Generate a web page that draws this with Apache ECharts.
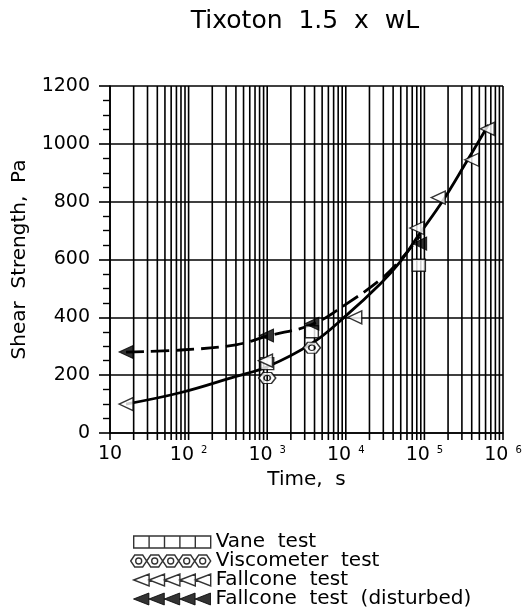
<!DOCTYPE html>
<html><head><meta charset="utf-8">
<script src="https://cdn.jsdelivr.net/npm/echarts@6/dist/echarts.min.js"></script>
<style>html,body{margin:0;padding:0;background:#fff}#c{width:525px;height:610px}</style>
</head><body><div id="c"></div>
<script>
const chartTitle = 'Tixoton  1.5  x  wL';
const yAxisName = 'Shear  Strength,  Pa';
const xAxisName = 'Time,  s';
const yTicks = [0, 200, 400, 600, 800, 1000, 1200];
const xDecades = [10, 100, 1000, 10000, 100000];
const xMultipliers = [1, 2, 3, 4, 5, 6, 7, 8, 9];

// measured points
const vaneTime = [1000, 3700, 85000];
const vaneStrength = [240, 350, 580];
const viscoTime = [1000, 3700];
const viscoStrength = [190, 295];
const fallTime = [16, 950, 13000, 80000, 150000, 400000, 630000];
const fallStrength = [100, 250, 400, 709, 814, 945, 1052];
const distTime = [16, 980, 3700, 87000];
const distStrength = [280, 337, 378, 655];

// fitted curves
const fitTime = [16, 80, 400, 1000, 3700, 10000, 28000, 50000, 80000, 174000, 330000, 650000];
const fitStrength = [100, 140, 196, 229, 310, 405, 518, 594, 675, 806, 930, 1065];
const distFitTime = [16, 80, 400, 1000, 3700, 10000, 28000, 50000, 87000];
const distFitStrength = [280, 287, 305, 335, 375, 445, 532, 600, 680];

const legendNames = ['Vane  test', 'Viscometer  test', 'Fallcone  test', 'Fallcone  test  (disturbed)'];

const pair = (a, b) => a.map((v, i) => [v, b[i]]);
const gridX = [];
xDecades.forEach(d => xMultipliers.forEach(m => gridX.push(d * m)));
gridX.push(1000000);

function stripPath(w, h, n, cell) {
  let s = '';
  for (let i = 0; i < n; i++) s += cell(i * w / n, w / n, h);
  return 'path://' + s;
}
const vaneIcon = 'path://M0,0H77V12H0Z' + [1,2,3,4].map(i => 'M' + (i*15.4) + ',0V12').join('');
const fallIcon = stripPath(77, 12, 5, (x, w, h) => `M${x},${h/2}L${x+w},0L${x+w},${h}Z`);
const viscoIcon = stripPath(80, 12, 5, (x, w, h) =>
  `M${x},6L${x+4},0L${x+12},0L${x+16},6L${x+12},12L${x+4},12Z M${x+5},6A3,3 0 1,0 ${x+11},6A3,3 0 1,0 ${x+5},6Z`);
const viscoSymbol = 'path://M0,6L4,0L12,0L16,6L12,12L4,12Z M5,6A3,3 0 1,0 11,6A3,3 0 1,0 5,6Z';

const FONT = 'DejaVu Sans';
const hollow = {color: '#fff', borderColor: '#000', borderWidth: 1.4};
const filled = {color: '#000', borderColor: '#000', borderWidth: 1};

const legendRows = [532, 551, 570, 589];
function mkLegend(i, icon, left, w, style) {
  return {
    data: [{name: legendNames[i], icon: icon}],
    left: left, top: legendRows[i], padding: 0, orient: 'horizontal',
    itemWidth: w, itemHeight: 12, selectedMode: false,
    itemStyle: style,
    textStyle: {fontFamily: FONT, fontSize: 20, color: '#000'}
  };
}

const chart = echarts.init(document.getElementById('c'), null, {renderer: 'canvas'});
chart.setOption({
  animation: false,
  backgroundColor: '#fff',
  title: {
    text: chartTitle, left: 300, top: 4, textAlign: 'center',
    textStyle: {fontFamily: FONT, fontSize: 25, fontWeight: 'normal', color: '#000'}
  },
  legend: [
    mkLegend(0, vaneIcon, 133, 77, hollow),
    mkLegend(1, viscoIcon, 130, 80, hollow),
    mkLegend(2, fallIcon, 133, 77, hollow),
    mkLegend(3, fallIcon, 133, 77, filled)
  ],
  grid: {left: 110, right: 22, top: 86, bottom: 177, containLabel: false},
  xAxis: {
    type: 'log', logBase: 10, min: 10, max: 1000000,
    name: xAxisName, nameLocation: 'middle', nameGap: 30,
    nameTextStyle: {fontFamily: FONT, fontSize: 20, color: '#000'},
    axisLine: {show: true, lineStyle: {color: '#000', width: 1.6}},
    axisTick: {show: false},
    splitLine: {show: false},
    axisLabel: {
      margin: 12, color: '#000',
      formatter: v => {
        const e = Math.round(Math.log10(v));
        return e === 1 ? '{b|10}' : '{b|10}{s|' + e + '}';
      },
      rich: {
        b: {fontFamily: FONT, fontSize: 19, color: '#000'},
        s: {fontFamily: FONT, fontSize: 10, color: '#000', verticalAlign: 'top', padding: [0, 0, 10, 7]}
      }
    }
  },
  yAxis: {
    type: 'value', min: 0, max: 1200, interval: 200,
    name: yAxisName, nameLocation: 'middle', nameGap: 80, nameRotate: 90,
    nameTextStyle: {fontFamily: FONT, fontSize: 20, color: '#000'},
    axisLine: {show: true, lineStyle: {color: '#000', width: 1.6}},
    axisTick: {show: true, length: 11, lineStyle: {color: '#000', width: 1.6}},
    minorTick: {show: true, splitNumber: 4, length: 7, lineStyle: {color: '#000', width: 1.4}},
    splitLine: {show: true, lineStyle: {color: '#000', width: 1.6}},
    axisLabel: {margin: 20, fontFamily: FONT, fontSize: 19, color: '#000',
      formatter: v => yTicks.includes(v) ? String(v) : ''}
  },
  series: [
    {
      type: 'custom', silent: true, z: 1,
      data: gridX.map(v => [v, 0]), encode: {x: 0, y: 1},
      renderItem: (params, api) => {
        const x = api.value(0);
        const t = api.coord([x, 1200]);
        const b = api.coord([x, 0]);
        return {type: 'line', shape: {x1: t[0], y1: t[1], x2: b[0], y2: b[1] + 7},
          style: {stroke: '#000', lineWidth: 1.6}};
      }
    },
    {
      type: 'line', name: 'fit', data: pair(fitTime, fitStrength), smooth: 0.4,
      showSymbol: false, symbol: 'none', z: 3, silent: true,
      lineStyle: {color: '#000', width: 2.8}
    },
    {
      type: 'line', name: 'fitd', data: pair(distFitTime, distFitStrength), smooth: 0.4,
      showSymbol: false, symbol: 'none', z: 3, silent: true,
      lineStyle: {color: '#000', width: 2.8, type: [18, 7]}
    },
    {
      type: 'scatter', name: legendNames[0], data: pair(vaneTime, vaneStrength),
      symbol: 'rect', symbolSize: [13, 12], z: 5, itemStyle: hollow
    },
    {
      type: 'scatter', name: legendNames[1], data: pair(viscoTime, viscoStrength),
      symbol: viscoSymbol, symbolSize: [17, 11], z: 5, itemStyle: hollow
    },
    {
      type: 'scatter', name: legendNames[2], data: pair(fallTime, fallStrength),
      symbol: 'triangle', symbolRotate: 90, symbolSize: [13, 14], z: 6, itemStyle: hollow
    },
    {
      type: 'scatter', name: legendNames[3], data: pair(distTime, distStrength),
      symbol: 'triangle', symbolRotate: 90, symbolSize: [13, 14], z: 7, itemStyle: filled
    }
  ]
});
</script></body></html>
